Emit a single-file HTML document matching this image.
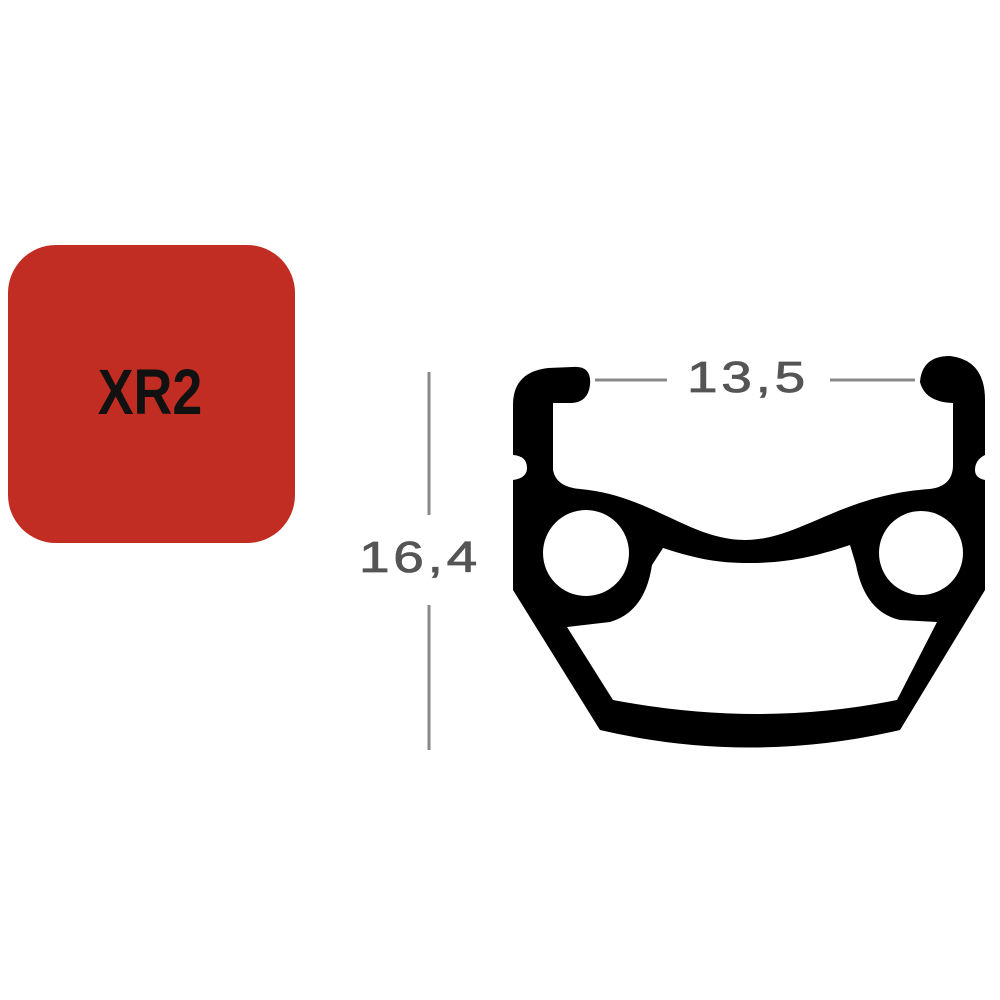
<!DOCTYPE html>
<html><head><meta charset="utf-8"><style>
html,body{margin:0;padding:0;background:#fff;width:1000px;height:1000px;overflow:hidden}
</style></head><body>
<svg width="1000" height="1000" viewBox="0 0 1000 1000" xmlns="http://www.w3.org/2000/svg">
<rect width="1000" height="1000" fill="#fff"/>
<rect x="8" y="245" width="287" height="298" rx="48" ry="48" fill="#c12d22"/>
<text x="150" y="414" text-anchor="middle" font-family="Liberation Sans, sans-serif" font-weight="bold" font-size="64" fill="#111" transform="translate(150 0) scale(0.84 1) translate(-150 0)">XR2</text>
<g stroke="#888" stroke-width="3">
<line x1="429" y1="372" x2="429" y2="515"/>
<line x1="429" y1="605" x2="429" y2="750"/>
<line x1="595" y1="380" x2="667" y2="380"/>
<line x1="830" y1="380" x2="915" y2="380"/>
</g>
<text x="420" y="572" text-anchor="middle" font-family="Liberation Sans, sans-serif" font-size="44" fill="#555" letter-spacing="3" stroke="#555" stroke-width="0.8" transform="translate(420 0) scale(1.25 1) translate(-420 0)">16,4</text>
<text x="748" y="392" text-anchor="middle" font-family="Liberation Sans, sans-serif" font-size="44" fill="#555" letter-spacing="3" stroke="#555" stroke-width="0.8" transform="translate(748 0) scale(1.25 1) translate(-748 0)">13,5</text>
<path fill="#000" fill-rule="evenodd" d="
M513,405 Q513,372 548,368 L572,367 Q592,365 590,385 Q588,402 572,403 L553,403 L553,470 Q556,487 580,489 C650,495 690,540 745,540 C800,540 840,495 930,489 Q953,486 953,465 L953,403 Q925,402 920,382 Q922,356 950,356 Q985,360 985,400 L985,455 Q975,460 975,470 Q975,478 985,480 L985,590 L900,730 Q750,765 600,730 L513,590 L513,480 Q527,478 527,468 Q527,456 513,455 Z
M586,553 m-43,0 a43,43 0 1,0 86,0 a43,43 0 1,0 -86,0 Z
M921,553 m-42,0 a42,42 0 1,0 84,0 a42,42 0 1,0 -84,0 Z
M567,627 L610,622 Q645,612 652,565 L663,548 C700,560 720,563 750,563 C790,563 820,555 850,545 L856,565 Q865,612 900,620 L937,622 L897,700 Q760,728 613,700 Z"/>
</svg>
</body></html>
